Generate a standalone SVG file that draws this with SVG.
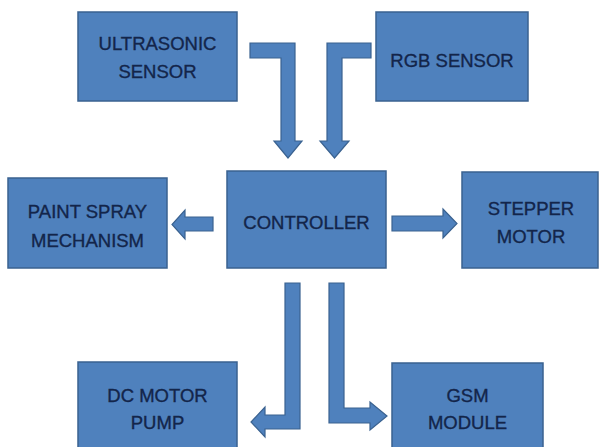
<svg xmlns="http://www.w3.org/2000/svg" width="600" height="447" viewBox="0 0 600 447">
<style>
.box{fill:#4f81bd;stroke:#3a6290;stroke-width:1.5}
.lbl{font-family:"Liberation Sans",Arial,sans-serif;font-size:18.5px;fill:#13254a;stroke:#13254a;stroke-width:0.35;text-anchor:middle}
.arr{fill:#4f81bd;stroke:#3a6290;stroke-width:1.2;stroke-linejoin:miter}
</style>
<rect width="600" height="447" fill="#ffffff"/>
<g id="ultrasonic">
<rect class="box" x="78" y="12" width="159" height="89"/>
<text class="lbl" x="157.5" y="50">ULTRASONIC</text>
<text class="lbl" x="157.5" y="78">SENSOR</text>
</g>
<g id="rgb">
<rect class="box" x="376" y="12" width="152" height="89"/>
<text class="lbl" x="452" y="67">RGB SENSOR</text>
</g>
<g id="paint">
<rect class="box" x="8" y="178" width="159" height="90"/>
<text class="lbl" x="87.5" y="218">PAINT SPRAY</text>
<text class="lbl" x="87.5" y="247">MECHANISM</text>
</g>
<g id="controller">
<rect class="box" x="227" y="171" width="159" height="97"/>
<text class="lbl" x="306.5" y="229">CONTROLLER</text>
</g>
<g id="stepper">
<rect class="box" x="462" y="172" width="136" height="96"/>
<text class="lbl" x="531" y="215">STEPPER</text>
<text class="lbl" x="531" y="243">MOTOR</text>
</g>
<g id="dcpump">
<rect class="box" x="78" y="362" width="159" height="90"/>
<text class="lbl" x="157.5" y="402">DC MOTOR</text>
<text class="lbl" x="157.5" y="429">PUMP</text>
</g>
<g id="gsm">
<rect class="box" x="392" y="363" width="151" height="89"/>
<text class="lbl" x="467.5" y="402">GSM</text>
<text class="lbl" x="467.5" y="429">MODULE</text>
</g>
<g id="connectors">
<polygon class="arr" points="250,43 295,43 295,141 302,141 288,158 274,141 281,141 281,58 250,58"/>
<polygon class="arr" points="371,43 327,43 327,141 320,141 334.5,158 349,141 342,141 342,58 371,58"/>
<polygon class="arr" points="213,217 185,217 185,210 172,224.5 185,239 185,231 213,231"/>
<polygon class="arr" points="392,216 443,216 443,209 457,223.5 443,238 443,231 392,231"/>
<polygon class="arr" points="285,283 300,283 300,429 265,429 265,437 251,422 265,407 265,415 285,415"/>
<polygon class="arr" points="329,283 344,283 344,408 370,408 370,402 387,416 370,430 370,423 329,423"/>
</g>
</svg>
